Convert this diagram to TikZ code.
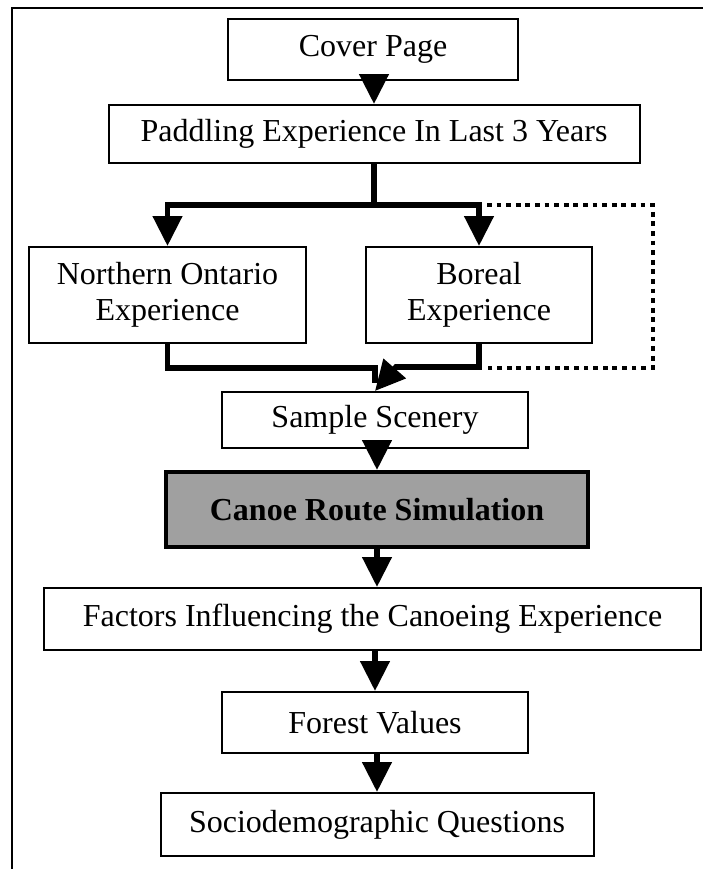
\documentclass[tikz,border=0pt]{standalone}
\usepackage{fontspec}
\setmainfont{Liberation Serif}
\usetikzlibrary{arrows.meta,calc}
\definecolor{simgray}{RGB}{160,160,160}
\begin{document}
\begin{tikzpicture}[x=0.75pt,y=-0.75pt,
  box/.style={draw,line width=1.5pt,rectangle,inner sep=0pt,align=center,
    font=\fontsize{24}{27}\selectfont},
  conn/.style={line width=4.2pt,-{Triangle[length=22.5pt,width=21.5pt]}},
  plainline/.style={line width=4.2pt},
  skipline/.style={line width=3.6pt,dash pattern=on 3.6pt off 3.6pt},
  frameline/.style={line width=1.5pt}]
\useasboundingbox (0,0) rectangle (709,869);
\draw[frameline] (11.5,869) -- (11.5,8.3) -- (703,8.3);

\node[box,minimum width=217.5pt,minimum height=45.75pt] (cover) at (373,49.5) {Cover Page};
\node[box,minimum width=398.25pt,minimum height=43.5pt] (padd) at (374,134) {Paddling Experience In Last 3 Years};
\node[box,minimum width=207.75pt,minimum height=72pt] (north) at (167.5,295) {Northern Ontario\\Experience};
\node[box,minimum width=169.5pt,minimum height=72pt] (boreal) at (479,295) {Boreal\\Experience};
\node[box,minimum width=229.5pt,minimum height=42pt] (sample) at (375,420) {Sample Scenery};
\node[box,line width=3pt,fill=simgray,minimum width=316.5pt,minimum height=56.25pt,font=\fontsize{24}{27}\selectfont\bfseries] (canoe) at (377,509.5) {Canoe Route Simulation};
\node[box,minimum width=492.75pt,minimum height=46.5pt] (factors) at (372.5,619) {Factors Influencing the Canoeing Experience};
\node[box,minimum width=229.5pt,minimum height=45.75pt] (forest) at (375,722.5) {Forest Values};
\node[box,minimum width=324.75pt,minimum height=47.25pt] (socio) at (377,824.5) {Sociodemographic Questions};

\coordinate (spl) at (374,205);
\coordinate (mrg) at (375,368);
\coordinate (skr) at (653,205);

\draw[conn] (padd.north |- cover.south) -- (padd.north);
\draw[plainline] (padd.south) -- (spl);
\draw[conn] (spl) -| (north.north);
\draw[conn] (spl) -| (boreal.north);
\draw[skipline] ($(boreal.north |- spl)+(8,0)$) -| (skr |- mrg) -- ($(boreal.south |- mrg)+(8,0)$);
\draw[plainline] (north.south) |- (mrg) -- ($(sample.north)+(0,-8)$);
\draw[conn] (boreal.south) |- ($(sample.north)+(21,-24)$) -- (sample.north);
\draw[conn] (canoe.north |- sample.south) -- (canoe.north);
\draw[conn] (canoe.south) -- (canoe.south |- factors.north);
\draw[conn] (forest.north |- factors.south) -- (forest.north);
\draw[conn] (socio.north |- forest.south) -- (socio.north);
\end{tikzpicture}
\end{document}
